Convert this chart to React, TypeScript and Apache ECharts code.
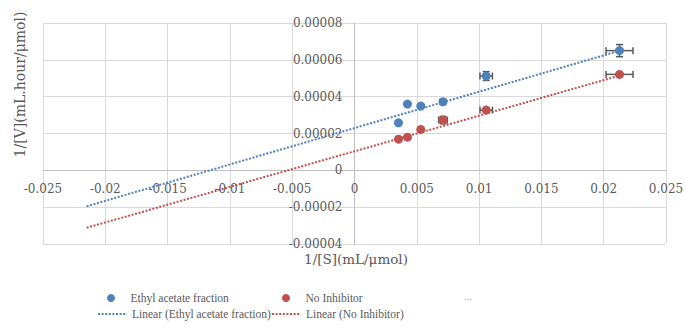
import React, { useEffect, useRef } from "react";
import * as echarts from "echarts";

// 1/[S] values (mL/µmol)
const xValues = [0.00353, 0.00425, 0.00532, 0.0071, 0.01057, 0.02127];
// 1/[V] values
const ethylY = [2.58e-5, 3.6e-5, 3.49e-5, 3.72e-5, 5.12e-5, 6.5e-5];
const noInhY = [1.69e-5, 1.8e-5, 2.22e-5, 2.73e-5, 3.27e-5, 5.21e-5];
// error bars
const ethylXErr = [0, 0, 0.00012, 0.0002, 0.0005, 0.00108];
const ethylYErr = [0, 0, 0.6e-6, 1.2e-6, 2.4e-6, 3.3e-6];
const noInhXErr = [0, 0, 0.0001, 0.00035, 0.0005, 0.00108];
const noInhYErr = [0, 0, 0.5e-6, 2e-6, 0.5e-6, 0.8e-6];
// linear trend line end points
const trendX = [-0.0215, 0.0213];
const ethylTrendY = [-1.95e-5, 6.5e-5];
const noInhTrendY = [-3.12e-5, 5.15e-5];

const names = [
  "Ethyl acetate fraction",
  "No Inhibitor",
  "Linear (Ethyl acetate fraction)",
  "Linear (No Inhibitor)",
];

const BLUE = "#4F81BD";
const RED = "#C0504D";
const TEXT = "#595959";
const GRID = "#D9D9D9";

const GRID_LEFT = 43;
const GRID_RIGHT = 19;
const GRID_TOP = 23;
const GRID_BOTTOM = 87;
const W = 685;
const H = 331;

export default function App() {
  const ref = useRef<HTMLDivElement>(null);
  useEffect(() => {
    if (!ref.current) return;
    const chart = echarts.init(ref.current, null, { renderer: "svg" });
    const zip = (xs: number[], ys: number[]) => xs.map((x, i) => [x, ys[i]]);
    const errData = (ys: number[], ex: number[], ey: number[]) =>
      xValues.map((x, i) => [x, ys[i], ex[i], ey[i]]);
    const renderErr = (params: any, api: any) => {
      const x = api.value(0), y = api.value(1), ex = api.value(2), ey = api.value(3);
      const style = { stroke: "#595959", lineWidth: 1.5 };
      const cap = 3.5;
      const children: any[] = [];
      if (ex > 0) {
        const l = api.coord([x - ex, y]);
        const r = api.coord([x + ex, y]);
        children.push({ type: "line", shape: { x1: l[0], y1: l[1], x2: r[0], y2: r[1] }, style });
        children.push({ type: "line", shape: { x1: l[0], y1: l[1] - cap, x2: l[0], y2: l[1] + cap }, style });
        children.push({ type: "line", shape: { x1: r[0], y1: r[1] - cap, x2: r[0], y2: r[1] + cap }, style });
      }
      if (ey > 0) {
        const t = api.coord([x, y + ey]);
        const b = api.coord([x, y - ey]);
        children.push({ type: "line", shape: { x1: t[0], y1: t[1], x2: b[0], y2: b[1] }, style });
        children.push({ type: "line", shape: { x1: t[0] - cap, y1: t[1], x2: t[0] + cap, y2: t[1] }, style });
        children.push({ type: "line", shape: { x1: b[0] - cap, y1: b[1], x2: b[0] + cap, y2: b[1] }, style });
      }
      return { type: "group", children };
    };
    const legendText = { fontFamily: "Liberation Serif", fontSize: 11.5, color: TEXT };
    const axisFont = { fontFamily: "DejaVu Serif", fontSize: 12, color: TEXT };
    const fmt = (v: number) => (Math.abs(v) < 1e-12 ? "0" : String(Number(v.toFixed(6))));
    const xMin = -0.025, xMax = 0.025, yMin = -0.00004, yMax = 0.00008;
    // axes cross at zero: shift each axis from the grid edge to the zero position
    const plotW = W - GRID_LEFT - GRID_RIGHT;
    const plotH = H - GRID_TOP - GRID_BOTTOM;
    const yAxisOffset = -((0 - xMin) / (xMax - xMin)) * plotW;
    const xAxisOffset = -((0 - yMin) / (yMax - yMin)) * plotH;
    const dotLegend = {
      itemWidth: 29,
      itemHeight: 8,
      textStyle: legendText,
      padding: 0,
    };
    const lineLegend = {
      itemWidth: 29,
      itemHeight: 8,
      textStyle: legendText,
      itemStyle: { opacity: 0 },
      padding: 0,
    };
    chart.setOption({
      animation: false,
      grid: {
        left: GRID_LEFT,
        right: GRID_RIGHT,
        top: GRID_TOP,
        bottom: GRID_BOTTOM,
        containLabel: false,
        outerBoundsMode: "none",
      },
      xAxis: {
        type: "value",
        min: xMin,
        max: xMax,
        interval: 0.005,
        position: "bottom",
        offset: xAxisOffset,
        axisLine: { show: true, onZero: false, lineStyle: { color: "#BFBFBF", width: 1 } },
        axisTick: { show: false },
        splitLine: { lineStyle: { color: GRID, width: 1 } },
        axisLabel: { ...axisFont, margin: 13, formatter: fmt },
      },
      yAxis: {
        type: "value",
        min: yMin,
        max: yMax,
        interval: 0.00002,
        position: "left",
        offset: yAxisOffset,
        axisLine: { show: true, onZero: false, lineStyle: { color: "#BFBFBF", width: 1 } },
        axisTick: { show: false },
        splitLine: { lineStyle: { color: GRID, width: 1 } },
        axisLabel: { ...axisFont, margin: 12, formatter: fmt },
      },
      legend: [
        { data: [names[0]], left: 107, top: 292, ...dotLegend },
        { data: [names[1]], left: 282, top: 292, ...dotLegend },
        { data: [names[2]], left: 97, top: 308, ...lineLegend },
        { data: [names[3]], left: 271, top: 308, ...lineLegend },
      ],
      graphic: [
        {
          type: "text",
          x: 20,
          y: 84.5,
          rotation: Math.PI / 2,
          style: {
            text: "1/[V](mL.hour/\u03bcmol)",
            fontFamily: "DejaVu Serif",
            fontSize: 14,
            fill: TEXT,
            align: "center",
            verticalAlign: "middle",
          },
        },
        {
          type: "text",
          x: 356,
          y: 259,
          style: {
            text: "1/[S](mL/\u03bcmol)",
            fontFamily: "DejaVu Serif",
            fontSize: 13.5,
            fill: TEXT,
            align: "center",
            verticalAlign: "middle",
          },
        },
        {
          type: "text",
          x: 468,
          y: 296,
          style: {
            text: "...",
            fontFamily: "Liberation Serif",
            fontSize: 11,
            fill: "#A6A6A6",
            align: "center",
            verticalAlign: "middle",
          },
        },
      ],
      series: [
        {
          name: names[2],
          type: "line",
          data: zip(trendX, ethylTrendY),
          showSymbol: false,
          symbol: "none",
          lineStyle: { color: BLUE, width: 2, type: [2, 1.6] },
          itemStyle: { color: BLUE },
          z: 1,
        },
        {
          name: names[3],
          type: "line",
          data: zip(trendX, noInhTrendY),
          showSymbol: false,
          symbol: "none",
          lineStyle: { color: RED, width: 2, type: [2, 1.6] },
          itemStyle: { color: RED },
          z: 1,
        },
        {
          type: "custom",
          name: "errEthyl",
          data: errData(ethylY, ethylXErr, ethylYErr),
          encode: { x: 0, y: 1 },
          renderItem: renderErr,
          z: 2,
        },
        {
          type: "custom",
          name: "errNoInh",
          data: errData(noInhY, noInhXErr, noInhYErr),
          encode: { x: 0, y: 1 },
          renderItem: renderErr,
          z: 2,
        },
        {
          name: names[0],
          type: "scatter",
          data: zip(xValues, ethylY),
          symbol: "circle",
          symbolSize: 9,
          itemStyle: { color: BLUE, opacity: 1 },
          z: 3,
        },
        {
          name: names[1],
          type: "scatter",
          data: zip(xValues, noInhY),
          symbol: "circle",
          symbolSize: 9,
          itemStyle: { color: RED, opacity: 1 },
          z: 3,
        },
      ],
    });
    return () => chart.dispose();
  }, []);
  return (
    <div
      ref={ref}
      style={{ position: "fixed", left: 0, top: 0, width: W, height: H, background: "#fff" }}
    />
  );
}
